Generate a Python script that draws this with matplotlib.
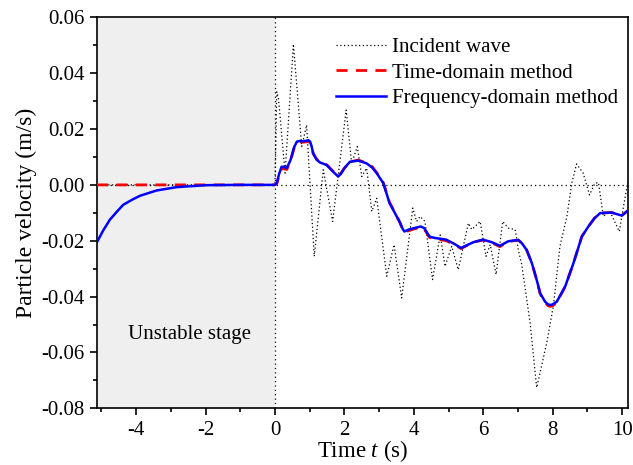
import numpy as np
import matplotlib
matplotlib.use("Agg")
import matplotlib.pyplot as plt
from matplotlib.ticker import MultipleLocator, FormatStrFormatter

# ── Data ─────────────────────────────────────────────────────────────────────
# incident wave (zero during the unstable stage)
inc_t = [-5.13, 0.00, 0.05, 0.10, 0.29, 0.53, 0.77, 0.91, 1.13, 1.39, 1.66,
         2.05, 2.21, 2.37, 2.50, 2.64, 2.79, 2.93, 3.22, 3.43, 3.65, 3.97,
         4.08, 4.18, 4.32, 4.54, 4.76, 4.90, 5.09, 5.28, 5.57, 5.67, 5.91,
         6.08, 6.20, 6.37, 6.56, 6.72, 6.92, 7.01, 7.11, 7.35, 7.54, 7.83,
         8.02, 8.21, 8.41, 8.55, 8.69, 8.88, 9.06, 9.22, 9.32, 9.46, 9.65,
         9.92, 10.09, 10.18]
inc_v = [0.0, 0.0, 0.0333, 0.0310, 0.0042, 0.0504, 0.0137, 0.0214, -0.0256,
         0.0054, -0.0131, 0.0268, 0.0077, 0.0137, 0.0030, 0.0060, -0.0095,
         -0.0048, -0.0327, -0.0214, -0.0405, -0.0083, -0.0131, -0.0113,
         -0.0131, -0.0339, -0.0179, -0.0292, -0.0220, -0.0304, -0.0137,
         -0.0160, -0.0131, -0.0256, -0.0214, -0.0321, -0.0131, -0.0155,
         -0.0160, -0.0232, -0.0286, -0.0494, -0.0726, -0.0565, -0.0434,
         -0.0220, -0.0113, 0.0006, 0.0075, 0.0042, -0.0036, 0.0006, 0.0008,
         -0.0113, -0.0095, -0.0167, -0.0042, 0.0018]

# right-hand part shared by both reconstruction methods
rec_t = [0.00, 0.05, 0.12, 0.19, 0.27, 0.34, 0.45, 0.55, 0.63, 0.72, 0.80,
         0.90, 0.96, 1.01, 1.05, 1.10, 1.20, 1.30, 1.49, 1.65, 1.75, 1.82,
         1.90, 2.00, 2.16, 2.40, 2.64, 2.80, 2.93, 3.12, 3.30, 3.45, 3.60,
         3.68, 3.73, 3.78, 3.85, 4.00, 4.20, 4.30, 4.45, 4.60, 4.93, 5.15,
         5.36, 5.55, 5.70, 5.99, 6.24, 6.48, 6.72, 7.01, 7.12, 7.25, 7.40,
         7.54, 7.64, 7.78, 7.87, 7.93, 8.00, 8.12, 8.36, 8.60, 8.84, 9.03,
         9.20, 9.37, 9.70, 9.99, 10.20]
freq_v = [0.0000, 0.0006, 0.0040, 0.0065, 0.0064, 0.0060, 0.0090, 0.0135,
          0.0155, 0.0157, 0.0156, 0.0158, 0.0160, 0.0155, 0.0140, 0.0113,
          0.0090, 0.0080, 0.0071, 0.0050, 0.0038, 0.0030, 0.0040, 0.0060,
          0.0083, 0.0087, 0.0077, 0.0062, 0.0042, 0.0006, -0.0065, -0.0100,
          -0.0135, -0.0158, -0.0167, -0.0164, -0.0160, -0.0155, -0.0149,
          -0.0155, -0.0185, -0.0190, -0.0196, -0.0210, -0.0226, -0.0215,
          -0.0206, -0.0196, -0.0205, -0.0218, -0.0202, -0.0197, -0.0210,
          -0.0233, -0.0280, -0.0340, -0.0388, -0.0418, -0.0428, -0.0430,
          -0.0428, -0.0418, -0.0364, -0.0280, -0.0185, -0.0149, -0.0120,
          -0.0101, -0.0099, -0.0110, -0.0089]
time_v = [0.0000, 0.0004, 0.0035, 0.0058, 0.0058, 0.0055, 0.0088, 0.0132,
          0.0152, 0.0154, 0.0153, 0.0154, 0.0155, 0.0152, 0.0138, 0.0112,
          0.0092, 0.0082, 0.0072, 0.0052, 0.0040, 0.0032, 0.0042, 0.0060,
          0.0082, 0.0089, 0.0078, 0.0065, 0.0044, 0.0008, -0.0063, -0.0098,
          -0.0135, -0.0162, -0.0170, -0.0168, -0.0164, -0.0158, -0.0151,
          -0.0158, -0.0188, -0.0193, -0.0200, -0.0212, -0.0228, -0.0216,
          -0.0205, -0.0198, -0.0207, -0.0221, -0.0203, -0.0198, -0.0210,
          -0.0233, -0.0280, -0.0340, -0.0390, -0.0421, -0.0433, -0.0435,
          -0.0433, -0.0421, -0.0364, -0.0280, -0.0185, -0.0149, -0.0120,
          -0.0101, -0.0099, -0.0110, -0.0089]

# unstable stage (t < 0)
pre_t = [-5.13, -4.95, -4.76, -4.55, -4.37, -4.10, -3.89, -3.41, -2.83,
         -1.97, -1.00, 0.00]
pre_freq = [-0.0205, -0.0163, -0.0125, -0.0095, -0.0071, -0.0052, -0.0039,
            -0.0020, -0.0008, -0.0001, 0.0, 0.0]
pre_time = [0.0, 0.0, 0.0, 0.0, 0.0, 0.0, 0.0, 0.0, 0.0, 0.0, 0.0, 0.0]

freq_t = pre_t + rec_t[1:]
freq_all = pre_freq + freq_v[1:]
time_t = pre_t + rec_t[1:]
time_all = pre_time + time_v[1:]

# ── Style ────────────────────────────────────────────────────────────────────
plt.rcParams["font.family"] = ["Liberation Serif", "DejaVu Serif"]
plt.rcParams["mathtext.fontset"] = "custom"
plt.rcParams["mathtext.rm"] = "Liberation Serif"
plt.rcParams["mathtext.it"] = "Liberation Serif:italic"
plt.rcParams["axes.unicode_minus"] = False

XMIN, XMAX = -5.13, 10.18

fig = plt.figure(figsize=(6.33, 4.65), dpi=100)
ax = fig.add_axes([0.1532, 0.1219, 0.8394, 0.8409])

ax.axvspan(XMIN, 0, color="#efefef", lw=0, zorder=0)
ax.axhline(0, color="black", lw=0.9, ls=(0, (1, 2.5)), zorder=1)
ax.axvline(0, color="black", lw=0.9, ls=(0, (1, 2.5)), zorder=1)

ax.plot(inc_t, inc_v, color="black", lw=0.9, ls=(0, (1, 2)),
        label="Incident wave", zorder=2)
ax.plot(time_t, time_all, color="#ff0000", lw=2.0, ls=(0, (4, 3)),
        label="Time-domain method", zorder=3, solid_joinstyle="round")
ax.plot(freq_t, freq_all, color="#0000ff", lw=1.8,
        label="Frequency-domain method", zorder=4, solid_joinstyle="round")

ax.text(-2.45, -0.0537, "Unstable stage", fontsize=15, ha="center",
        va="center")

ax.set_xlim(XMIN, XMAX)
ax.set_ylim(-0.08, 0.06)
ax.xaxis.set_major_locator(MultipleLocator(2))
ax.xaxis.set_minor_locator(MultipleLocator(1))
ax.yaxis.set_major_locator(MultipleLocator(0.02))
ax.yaxis.set_minor_locator(MultipleLocator(0.01))
ax.yaxis.set_major_formatter(FormatStrFormatter("%.2f"))
ax.tick_params(which="major", direction="out", length=5, width=1.2,
               labelsize=15, pad=4)
ax.tick_params(which="minor", direction="out", length=3, width=1.2)
for spine in ax.spines.values():
    spine.set_linewidth(1.2)

ax.set_xlabel("Time $t$ (s)", fontsize=16.5, labelpad=-1)
ax.set_ylabel("Particle velocity (m/s)", fontsize=17, labelpad=3)

ax.legend(loc="upper right", frameon=False, fontsize=15, handlelength=2.4,
          handletextpad=0.3, labelspacing=0.28, borderaxespad=0.3,
          bbox_to_anchor=(1.008, 0.985))

fig.savefig("out.png", dpi=100)
